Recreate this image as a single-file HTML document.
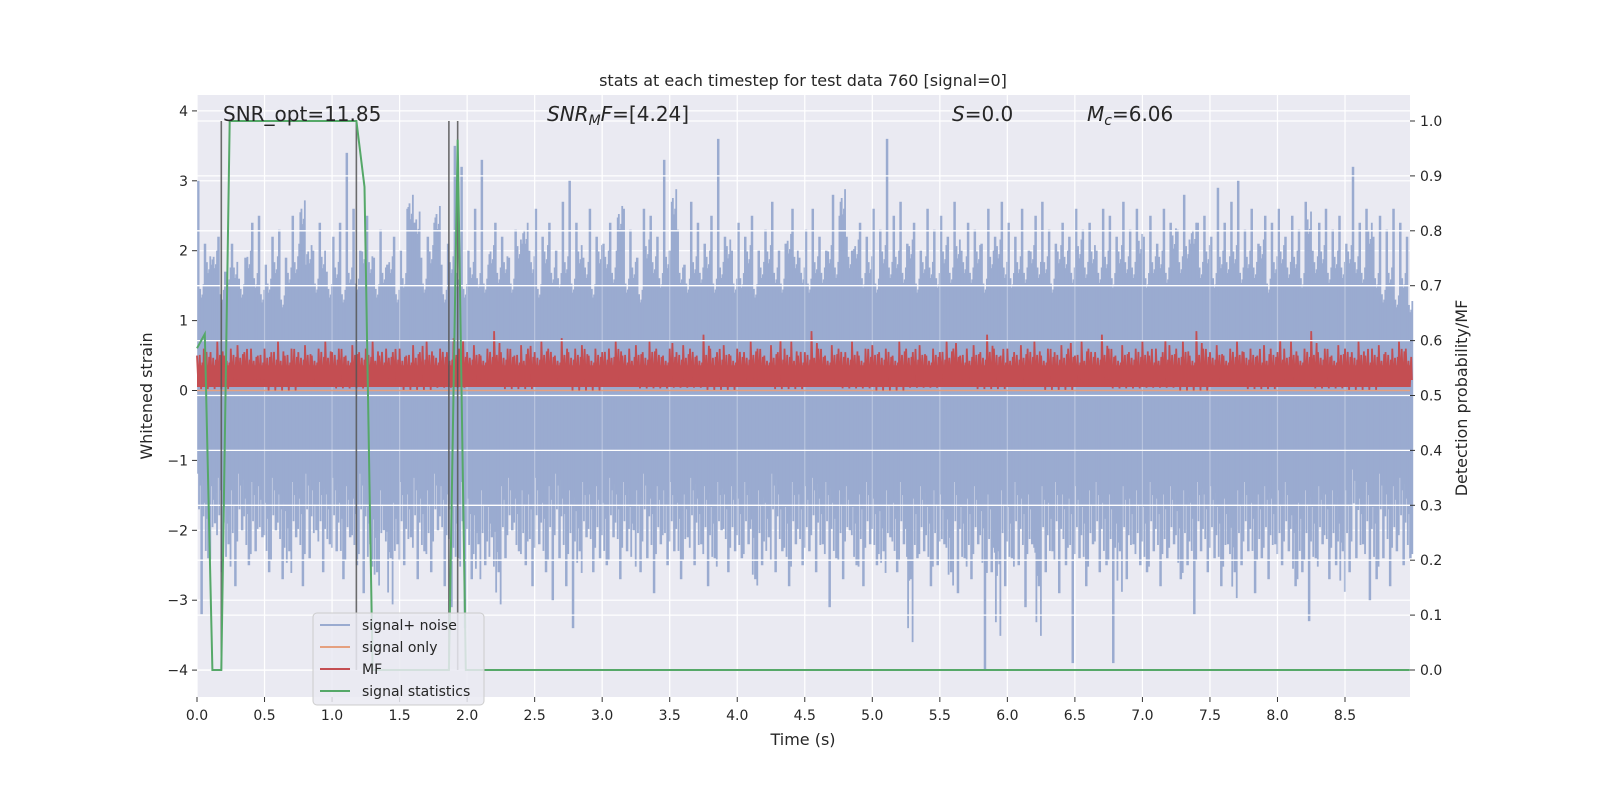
<!DOCTYPE html>
<html><head><meta charset="utf-8">
<style>
html,body{margin:0;padding:0;background:#fff;}
svg{display:block;font-family:"DejaVu Sans","Liberation Sans",sans-serif;}
</style></head>
<body>
<svg id="chart" width="1600" height="800" viewBox="0 0 1600 800" xmlns="http://www.w3.org/2000/svg">
<rect x="197" y="95" width="1213" height="602" fill="#eaeaf2"/>
<g id="gridL"></g>
<g id="blue"></g>
<g id="gridV"></g>
<line x1="197" x2="1410" y1="390.5" y2="390.5" stroke="#e5a07f" stroke-width="1.5"/>
<g id="red"></g>
<g id="gridR"></g>
<g id="vlines"></g>
<g id="green"></g>
<g id="axes"></g>
<text x="803" y="86" font-size="16" text-anchor="middle" fill="#262626">stats at each timestep for test data 760 [signal=0]</text>
<text x="223" y="121" font-size="20" fill="#262626">SNR_opt=11.85</text>
<text x="547" y="121" font-size="20" fill="#262626"><tspan font-style="italic">SNR</tspan><tspan font-style="italic" font-size="14" dy="4">M</tspan><tspan font-style="italic" dy="-4">F</tspan>=[4.24]</text>
<text x="952" y="121" font-size="20" fill="#262626"><tspan font-style="italic">S</tspan>=0.0</text>
<text x="1087" y="121" font-size="20" fill="#262626"><tspan font-style="italic">M</tspan><tspan font-style="italic" font-size="14" dy="4">c</tspan><tspan dy="-4">=6.06</tspan></text>
<text x="803" y="745" font-size="16" text-anchor="middle" fill="#262626">Time (s)</text>
<text transform="translate(152,396) rotate(-90)" font-size="16" text-anchor="middle" fill="#262626">Whitened strain</text>
<text transform="translate(1467,398) rotate(-90)" font-size="16" text-anchor="middle" fill="#262626">Detection probability/MF</text>
<g>
<rect x="313" y="613" width="171" height="92" rx="4" fill="#eaeaf2" fill-opacity="0.85" stroke="#cccccc"/>
<line x1="320" x2="350" y1="625" y2="625" stroke="#9aabd0" stroke-width="2"/>
<text x="362" y="630" font-size="14" fill="#262626">signal+ noise</text>
<line x1="320" x2="350" y1="647" y2="647" stroke="#e5a07f" stroke-width="2"/>
<text x="362" y="652" font-size="14" fill="#262626">signal only</text>
<line x1="320" x2="350" y1="669" y2="669" stroke="#c44e52" stroke-width="2"/>
<text x="362" y="674" font-size="14" fill="#262626">MF</text>
<line x1="320" x2="350" y1="691" y2="691" stroke="#55a868" stroke-width="2"/>
<text x="362" y="696" font-size="14" fill="#262626">signal statistics</text>
</g>
</svg>
<script>
const binWidth = 0.05;
const noiseHigh = [3.0,2.1,1.8,2.2,1.7,2.1,1.6,1.9,2.4,2.5,
1.8,2.2,2.3,1.9,2.5,2.1,1.8,2.0,2.4,1.7,
2.2,2.4,3.4,2.6,2.0,2.5,1.9,2.3,1.8,2.2,
2.0,2.6,2.4,1.9,2.2,2.4,1.8,2.1,3.5,3.2,
2.0,2.6,3.3,1.8,2.4,2.2,1.9,2.3,2.1,2.0,
2.6,2.2,2.4,2.0,2.7,3.0,2.4,1.9,2.6,2.2,
2.1,2.4,2.0,2.6,2.3,1.9,2.6,2.5,2.2,3.3,
2.0,2.3,1.8,2.7,2.4,2.1,2.5,3.6,2.2,2.0,
2.4,2.2,2.5,2.0,2.3,2.7,2.0,2.1,2.6,1.9,
2.3,2.6,2.2,2.0,2.8,2.5,2.2,2.0,2.4,2.2,
2.6,2.3,3.6,2.5,2.7,2.1,2.4,2.0,2.6,2.3,
2.5,2.2,2.7,2.0,2.4,2.3,2.1,2.6,2.2,2.7,
2.4,2.2,2.6,2.0,2.5,2.7,2.3,2.1,2.4,2.2,
2.6,2.3,2.4,2.0,2.6,2.5,2.2,2.7,2.3,2.6,
2.2,2.5,2.1,2.6,2.4,2.3,2.8,2.1,2.4,2.5,
2.2,2.9,2.4,2.7,3.0,2.3,2.6,2.1,2.5,2.4,
2.6,2.2,2.5,2.3,2.7,2.0,2.4,2.6,2.3,2.5,
2.1,3.2,2.4,2.6,2.2,2.5,2.3,2.6,2.4,2.2];
const noiseLow = [-3.2,-2.4,-1.9,-2.6,-2.2,-2.8,-2.0,-2.5,-2.3,-2.1,
-2.6,-2.0,-2.7,-2.3,-2.1,-2.8,-2.4,-2.0,-2.6,-2.2,
-2.3,-2.7,-2.1,-2.5,-2.9,-2.2,-2.6,-2.0,-2.4,-2.2,
-2.5,-2.1,-2.7,-2.3,-2.6,-2.0,-2.8,-3.1,-2.4,-3.4,
-2.7,-2.2,-2.5,-2.1,-2.6,-2.4,-2.0,-2.3,-2.5,-2.8,
-2.2,-2.6,-3.0,-2.4,-2.8,-3.4,-2.3,-2.1,-2.6,-2.4,
-2.5,-2.1,-2.7,-2.3,-2.0,-2.6,-2.4,-2.9,-2.2,-2.5,
-2.3,-2.7,-2.1,-2.5,-2.2,-2.8,-2.4,-2.0,-2.6,-2.3,
-2.4,-2.2,-2.7,-2.5,-2.1,-2.6,-2.3,-2.8,-2.2,-2.5,
-2.3,-2.6,-2.2,-3.1,-2.4,-2.7,-2.0,-2.5,-2.8,-2.2,
-2.5,-2.3,-2.1,-2.6,-2.2,-2.7,-2.4,-2.3,-2.8,-2.5,
-2.2,-2.6,-2.9,-2.4,-2.7,-2.2,-4.0,-2.6,-2.3,-2.8,
-2.4,-2.5,-3.1,-2.2,-2.8,-2.6,-2.3,-2.9,-2.5,-3.9,
-2.4,-2.8,-2.2,-2.6,-2.5,-3.9,-2.3,-2.7,-2.2,-2.5,
-2.6,-2.3,-2.8,-2.4,-2.2,-2.7,-2.5,-3.2,-2.3,-2.6,
-2.4,-2.8,-2.2,-2.6,-2.5,-2.3,-2.9,-2.4,-2.7,-2.2,
-2.5,-2.3,-2.8,-2.6,-3.3,-2.4,-2.2,-2.7,-2.5,-2.3,
-2.6,-2.4,-2.2,-3.0,-2.7,-2.4,-2.8,-2.3,-2.5,-2.4];
const noiseCore = [1.0, -0.9];
const mfHigh = [0.5,0.6,0.55,0.7,0.5,0.6,0.65,0.55,0.6,0.5,
0.6,0.55,0.7,0.5,0.6,0.55,0.65,0.5,0.6,0.7,
0.55,0.6,0.5,0.65,0.55,0.6,0.7,0.5,0.6,0.55,
0.6,0.5,0.65,0.55,0.7,0.5,0.6,0.55,0.75,0.6,
0.55,0.65,0.5,0.6,0.85,0.55,0.6,0.5,0.65,0.6,
0.55,0.7,0.6,0.5,0.75,0.55,0.6,0.65,0.5,0.6,
0.55,0.6,0.7,0.5,0.6,0.65,0.55,0.7,0.6,0.5,
0.6,0.55,0.65,0.6,0.5,0.8,0.6,0.55,0.65,0.5,
0.6,0.55,0.7,0.6,0.5,0.65,0.55,0.6,0.7,0.5,
0.55,0.85,0.6,0.5,0.65,0.6,0.55,0.7,0.5,0.6,
0.65,0.55,0.6,0.5,0.7,0.6,0.55,0.65,0.5,0.6,
0.55,0.7,0.6,0.5,0.6,0.65,0.55,0.8,0.6,0.5,
0.6,0.55,0.65,0.6,0.7,0.5,0.6,0.55,0.65,0.6,
0.5,0.7,0.6,0.55,0.8,0.6,0.5,0.65,0.55,0.6,
0.7,0.5,0.6,0.55,0.65,0.6,0.7,0.5,0.85,0.6,
0.55,0.65,0.5,0.6,0.7,0.55,0.6,0.5,0.65,0.6,
0.55,0.6,0.7,0.5,0.6,0.85,0.55,0.6,0.5,0.65,
0.6,0.55,0.7,0.5,0.6,0.65,0.55,0.6,0.7,0.6];
const mfLow = [0.02,0.06,0.0,0.05,0.03,0.08,0.01,0.04,0.06,0.02,0.05,0.0,0.07,0.03,0.04,0.01,0.06,0.02,0.05,0.03,
0.0,0.04,0.07,0.02,0.05,0.01,0.06,0.03,0.04,0.0,0.05,0.02,0.06,0.03,0.01,0.05];
const statTimes = [0,0.058,0.114,0.18,0.242,1.18,1.24,1.30,1.865,1.93,1.99,8.98];
const statProb = [0.586,0.612,0,0,1.0,1.0,0.88,0,0,0.966,0,0];
const markerTimes = [0.18,1.18,1.865,1.93];
const xTicks = [0,0.5,1,1.5,2,2.5,3,3.5,4,4.5,5,5.5,6,6.5,7,7.5,8,8.5];
const xTickLabels = ["0.0","0.5","1.0","1.5","2.0","2.5","3.0","3.5","4.0","4.5","5.0","5.5","6.0","6.5","7.0","7.5","8.0","8.5"];
const yTicks = [4,3,2,1,0,-1,-2,-3,-4];
const yTickLabels = ["4","3","2","1","0","\u22121","\u22122","\u22123","\u22124"];
const rTicks = [0,0.1,0.2,0.3,0.4,0.5,0.6,0.7,0.8,0.9,1.0];
const rTickLabels = ["0.0","0.1","0.2","0.3","0.4","0.5","0.6","0.7","0.8","0.9","1.0"];

const NS='http://www.w3.org/2000/svg';
const L=197,R=1410,T=95,B=697;
function X(t){return 197+t*135.06;}
function YL(v){return 390.5-v*69.9;}
function YR(p){return 670-p*549;}
function mk(tag,parent,attrs){const e=document.createElementNS(NS,tag);for(const k in attrs)e.setAttribute(k,attrs[k]);document.getElementById(parent).appendChild(e);return e;}

yTicks.forEach((v,i)=>{
  let g=mk('line','gridL',{x1:L,x2:R,y1:YL(v),y2:YL(v),stroke:'#fff','stroke-width':1.2});
  
  
  let tk=mk('line','axes',{x1:L-5,x2:L,y1:YL(v),y2:YL(v),stroke:'#333','stroke-width':1});
  
  
  let tx=mk('text','axes',{x:L-9,y:YL(v)+5,'font-size':14,'text-anchor':'end',fill:'#262626'});
  tx.textContent=yTickLabels[i];
  
  
});
xTicks.forEach((t,i)=>{
  let g=mk('line','gridL',{x1:X(t),x2:X(t),y1:T,y2:B,stroke:'#fff','stroke-width':1.2});
  
  
  let g2=mk('line','gridV',{x1:X(t),x2:X(t),y1:T,y2:B,stroke:'rgba(255,255,255,0.3)','stroke-width':1.2});
  
  
  let tk=mk('line','axes',{x1:X(t),x2:X(t),y1:B,y2:B+5,stroke:'#333','stroke-width':1});
  
  
  let tx=mk('text','axes',{x:X(t),y:B+23,'font-size':14,'text-anchor':'middle',fill:'#262626'});
  tx.textContent=xTickLabels[i];
  
  
});
rTicks.forEach((p,i)=>{
  let g=mk('line','gridR',{x1:L,x2:R,y1:YR(p),y2:YR(p),stroke:'#fff','stroke-width':1.3});
  
  
  let tk=mk('line','axes',{x1:R,x2:R+5,y1:YR(p),y2:YR(p),stroke:'#333','stroke-width':1});
  
  
  let tx=mk('text','axes',{x:R+10,y:YR(p)+5,'font-size':14,fill:'#262626'});
  tx.textContent=rTickLabels[i];
  
  
});

// blue signal+noise
const core=mk('rect','blue',{x:L,y:YL(noiseCore[0]),width:R-L,height:YL(noiseCore[1])-YL(noiseCore[0]),fill:'#9aabd0'});


const subF=[1,0.75,0.9,0.7,0.85,0.8];
noiseHigh.forEach((h,i)=>{
  const t=i*binWidth;
  const lo=noiseLow[i];
  const hPrev=noiseHigh[(i+7)%noiseHigh.length], lPrev=noiseLow[(i+11)%noiseLow.length];
  for(let k=0;k<6;k++){
    const tt=t+k*binWidth/6;
    const hv=(k===0?h:Math.max(1.1,hPrev*subF[k]*(k%2?1:0.85)));
    let b=mk('rect','blue',{x:X(tt),y:YL(hv),width:k===0?2.5:1.8,height:YL(0)-YL(hv),fill:'#9aabd0'});
    
    
    const tl=t+((k+3)%6)*binWidth/6;
    const lv=(k===0?lo:Math.min(-1.0,lPrev*subF[k]*(k%2?0.85:1)));
    let c=mk('rect','blue',{x:X(tl),y:YL(0),width:k===0?2.5:1.8,height:YL(lv)-YL(0),fill:'#9aabd0'});
    
    
  }
});

// red MF
const rc=mk('rect','red',{x:L,y:YL(0.36),width:R-L,height:YL(0.05)-YL(0.36),fill:'#c44e52'});


let pts=[];
mfHigh.forEach((h,i)=>{
  const t=i*binWidth;
  const lo=mfLow[Math.floor(i/5)];
  const h2=mfHigh[(i+5)%mfHigh.length];
  pts.push(X(t).toFixed(1)+','+YL(h).toFixed(1));
  pts.push(X(t+binWidth*0.2).toFixed(1)+','+YL(lo+0.05).toFixed(1));
  pts.push(X(t+binWidth*0.4).toFixed(1)+','+YL(h2*0.85).toFixed(1));
  pts.push(X(t+binWidth*0.6).toFixed(1)+','+YL(lo).toFixed(1));
  pts.push(X(t+binWidth*0.8).toFixed(1)+','+YL(h*0.8).toFixed(1));
  pts.push(X(t+binWidth*0.9).toFixed(1)+','+YL(lo+0.1).toFixed(1));
});
const rl=mk('polyline','red',{points:pts.join(' '),fill:'none',stroke:'#c44e52','stroke-width':1.8,'stroke-linejoin':'miter'});



// marker lines
markerTimes.forEach(t=>{
  let l=mk('line','vlines',{x1:X(t),x2:X(t),y1:YR(1.0),y2:YR(0),stroke:'#555','stroke-opacity':0.85,'stroke-width':1.6});
  
  
});

// green
const gp=statTimes.map((t,i)=>X(t).toFixed(1)+','+YR(statProb[i]).toFixed(1)).join(' ');
const gl=mk('polyline','green',{points:gp,fill:'none',stroke:'#55a868','stroke-width':2});


</script>
</body></html>
